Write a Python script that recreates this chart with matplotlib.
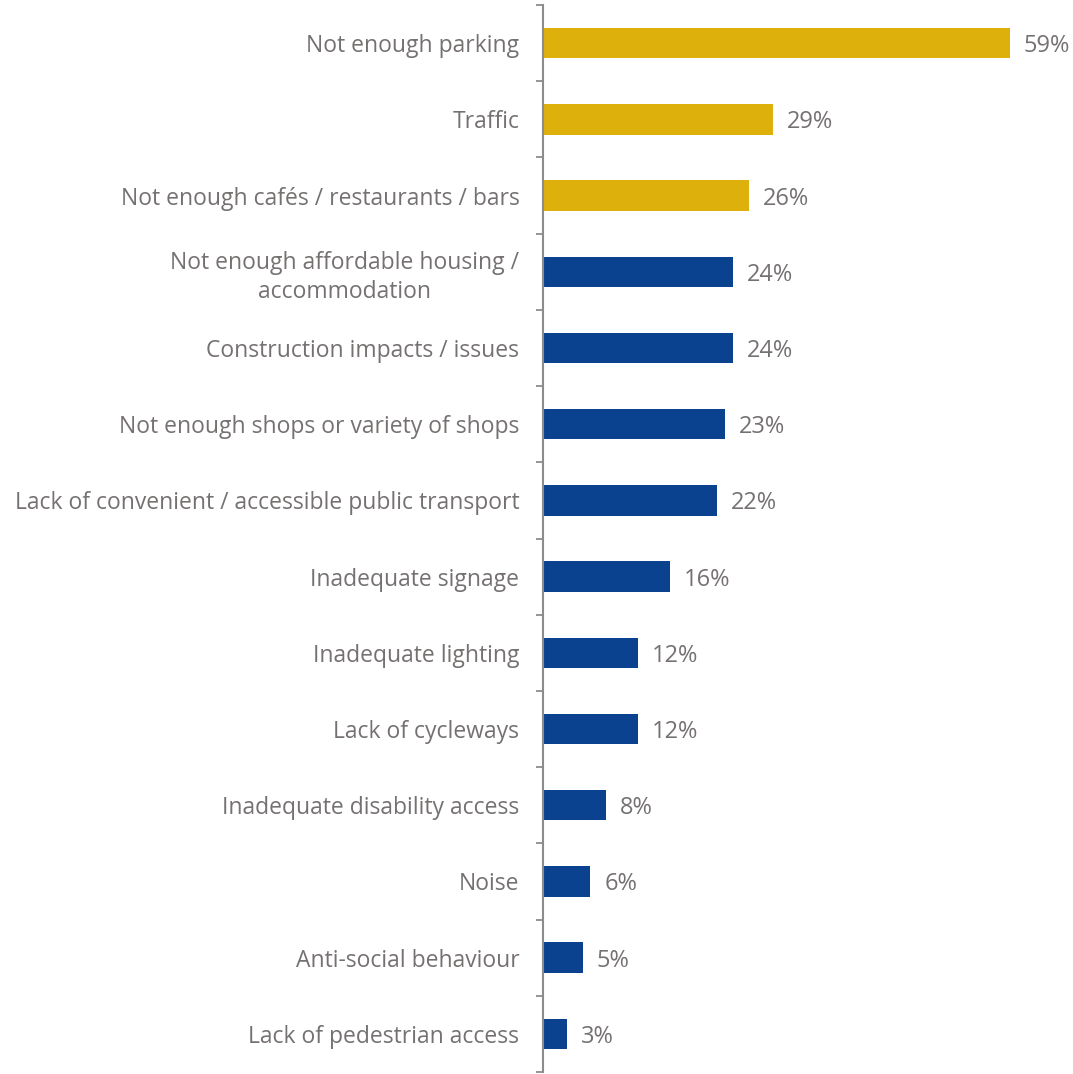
import matplotlib
matplotlib.use("Agg")
import matplotlib.pyplot as plt

# issues raised by respondents, top to bottom
categories = [
    "Not enough parking",
    "Traffic",
    "Not enough cafés / restaurants / bars",
    "Not enough affordable housing /\naccommodation",
    "Construction impacts / issues",
    "Not enough shops or variety of shops",
    "Lack of convenient / accessible public transport",
    "Inadequate signage",
    "Inadequate lighting",
    "Lack of cycleways",
    "Inadequate disability access",
    "Noise",
    "Anti-social behaviour",
    "Lack of pedestrian access",
]
values = [59, 29, 26, 24, 24, 23, 22, 16, 12, 12, 8, 6, 5, 3]
n_highlight = 3  # top three are shown in gold

GOLD = "#DEB00B"
BLUE = "#0B4290"
GREY = "#767171"
FS = 16.5

plt.rcParams["font.family"] = ["Open Sans", "DejaVu Sans"]

fig = plt.figure(figsize=(10.73, 10.74), dpi=100)
ax = fig.add_axes([543 / 1073, 2 / 1074, 1 - 543 / 1073, 1067 / 1074])

ypos = list(range(len(categories)))
colors = [GOLD if i < n_highlight else BLUE for i in ypos]
ax.barh(ypos, values, height=0.4, color=colors)

for y, v in zip(ypos, values):
    ax.annotate(f"{v}%", (v, y), xytext=(10, 0), textcoords="offset points",
                va="center_baseline", ha="left", color=GREY, fontsize=17)

ax.set_xlim(0, 530 / (467 / 59))
ax.set_ylim(len(categories) - 0.5, -0.5)

# category labels sit between the boundary ticks
ax.set_yticks(ypos)
ax.set_yticklabels(categories, color=GREY, fontsize=FS,
                   multialignment="center", linespacing=1.3)
ax.tick_params(axis="y", which="major", length=0, pad=17)
ax.set_yticks([i - 0.5 for i in range(len(categories) + 1)], minor=True)
ax.tick_params(axis="y", which="minor", length=5, width=1.3, color="#8C8C8C")
ax.set_xticks([])

for side in ["top", "right", "bottom"]:
    ax.spines[side].set_visible(False)
ax.spines["left"].set_color("#8C8C8C")
ax.spines["left"].set_linewidth(1.5)

fig.savefig("out.png", dpi=100)
